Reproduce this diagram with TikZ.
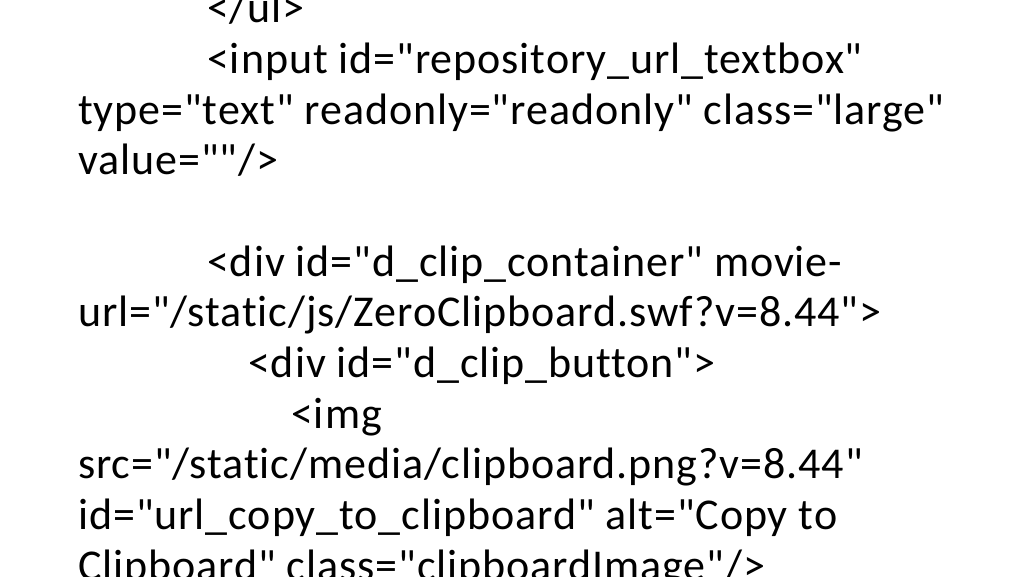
\documentclass[tikz,border=0pt]{standalone}
\usepackage{fontspec}
\setmainfont{Carlito}[Ligatures={TeXOff,NoCommon}, LetterSpace=2.1]
\tikzset{codeline/.style={anchor=base west, inner sep=0pt, font=\fontsize{44}{50}\selectfont}}

\begin{document}
\begin{tikzpicture}[x=1pt,y=1pt]
    \useasboundingbox (0,0) rectangle (1024,-576);
    \clip (0,0) rectangle (1024,-576);
    \fill[white] (0,0) rectangle (1024,-576);
    \node[codeline] (ulend) at (207,-22) {</ul>};
    \node[codeline] (inputa) at (207,-73) {<input id="repository\_url\_textbox"};
    \node[codeline] (inputb) at (78,-124) {type="text" readonly="readonly" class="large"};
    \node[codeline] (inputc) at (78,-174) {value=""/>};
    \node[codeline] (conta) at (207,-276) {<div id="d\_clip\_container" movie-};
    \node[codeline] (contb) at (78,-326) {url="/static/js/ZeroClipboard.swf?v=8.44">};
    \node[codeline] (button) at (248,-377) {<div id="d\_clip\_button">};
    \node[codeline] (imga) at (291,-428) {<img};
    \node[codeline] (imgb) at (78,-478) {src="/static/media/clipboard.png?v=8.44"};
    \node[codeline] (imgc) at (78,-529) {id="url\_copy\_to\_clipboard" alt="Copy to};
    \node[codeline] (imgd) at (78,-580) {Clipboard" class="clipboardImage"/>};
  \end{tikzpicture}
\end{document}
